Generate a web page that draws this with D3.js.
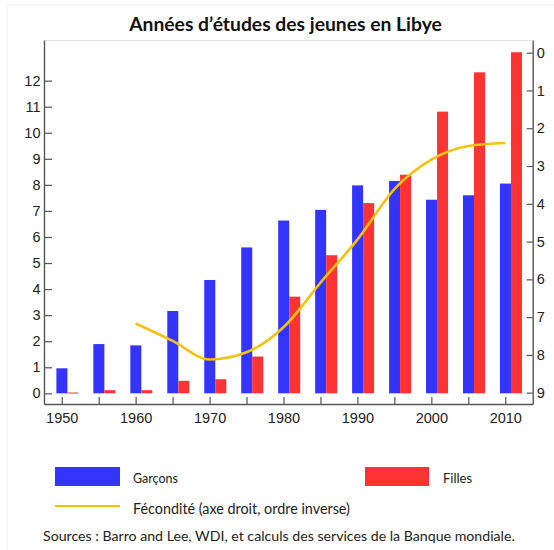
<!DOCTYPE html>
<html><head><meta charset="utf-8">
<script src="https://cdn.jsdelivr.net/npm/d3@7"></script>
<style>body{margin:0;background:#fff}</style>
</head><body>
<svg id="c" width="554" height="550"></svg>
<script>
const years = [1950,1955,1960,1965,1970,1975,1980,1985,1990,1995,2000,2005,2010];
const garcons = [0.96,1.89,1.84,3.16,4.35,5.6,6.63,7.04,7.98,8.15,7.43,7.6,8.05];
const filles = [0.03,0.12,0.12,0.48,0.54,1.41,3.71,5.3,7.3,8.39,10.81,12.32,13.09];
const fertYears = [1960,1965,1970,1975,1980,1985,1990,1995,2000,2005,2010];
const fecondite = [7.17,7.63,8.12,7.93,7.27,6.09,4.95,3.61,2.83,2.47,2.39];
const leftTicks = [0,1,2,3,4,5,6,7,8,9,10,11,12];
const rightTicks = [0,1,2,3,4,5,6,7,8,9];
const xTicks = [1950,1955,1960,1965,1970,1975,1980,1985,1990,1995,2000,2005,2010];
const xLabels = [1950,1960,1970,1980,1990,2000,2010];
const title = "Années d’études des jeunes en Libye";
const legendLabels = ["Garçons","Filles","Fécondité (axe droit, ordre inverse)"];
const source = "Sources : Barro and Lee, WDI, et calculs des services de la Banque mondiale.";

const blue = "#3434ff", red = "#ff3333", yellow = "#f4c20d", axisCol = "#555";
const svg = d3.select("#c");
const L = 44, R = 532.7, T = 40, B = 404;

// faint outer frame
svg.append("rect").attr("x",7).attr("y",5).attr("width",560).attr("height",560)
  .attr("fill","none").attr("stroke","#eeeeee");

const x = d3.scaleLinear().domain([1947.604, 2013.71]).range([L, R]);
const yL = d3.scaleLinear().domain([-0.41, 13.56]).range([B, T]);
const yR = d3.scaleLinear().domain([-0.336, 9.30]).range([T, B]);

// top faint line
svg.append("line").attr("x1",L).attr("x2",R).attr("y1",T+0.5).attr("y2",T+0.5)
  .attr("stroke","#e4e4e4");

// bars
svg.append("g").selectAll("rect").data(years).join("rect")
  .attr("x", d => x(d - 0.72)).attr("width", (d) => x(d + 0.77) - x(d - 0.72))
  .attr("y", (d,i) => yL(garcons[i])).attr("height", (d,i) => yL(0) - yL(garcons[i]))
  .attr("fill", blue);
svg.append("g").selectAll("rect").data(years).join("rect")
  .attr("x", d => x(d + 0.77)).attr("width", (d) => x(d + 2.26) - x(d + 0.77))
  .attr("y", (d,i) => yL(filles[i])).attr("height", (d,i) => Math.max(1, yL(0) - yL(filles[i])))
  .attr("fill", red);

// fertility line
const line = d3.line().x((d,i) => x(fertYears[i])).y(d => yR(d)).curve(d3.curveMonotoneX);
svg.append("path").datum(fecondite).attr("d", line).attr("fill","none")
  .attr("stroke", yellow).attr("stroke-width", 2.6);

function styleAxis(g){
  g.attr("font-family", null).attr("font-size", null);
  g.select(".domain").attr("stroke", axisCol).attr("stroke-width",1.4);
  g.selectAll(".tick line").attr("stroke", axisCol).attr("stroke-width",1.2);
  g.selectAll("text").attr("fill","#222").style("font-family","'Liberation Sans', Arial, sans-serif").style("font-size","14.5px");
}
const gl = svg.append("g").attr("transform",`translate(${L},0)`)
  .call(d3.axisLeft(yL).tickValues(leftTicks).tickSizeInner(-8).tickSizeOuter(0).tickPadding(3.5).tickFormat(d3.format("d")));
styleAxis(gl);
const gr = svg.append("g").attr("transform",`translate(${R},0)`)
  .call(d3.axisRight(yR).tickValues(rightTicks).tickSizeInner(-6).tickSizeOuter(0).tickPadding(4).tickFormat(d3.format("d")));
styleAxis(gr);
const gx = svg.append("g").attr("transform",`translate(0,${B})`)
  .call(d3.axisBottom(x).tickValues(xTicks).tickSizeInner(-7).tickSizeOuter(0).tickPadding(9)
    .tickFormat(d => xLabels.includes(d) ? String(d) : ""));
styleAxis(gx);

function fitText(sel, target, size){
  sel.style("font-size", size+"px");
  const len = sel.node().getComputedTextLength();
  sel.style("font-size", (size*target/len).toFixed(2)+"px");
}
const font = "Lato, 'Open Sans', sans-serif";
const t = svg.append("text").attr("x",285.5).attr("y",30.5).attr("text-anchor","middle")
  .style("font-family",font).style("font-weight","bold").attr("fill","#111").text(title);
fitText(t, 313, 17);

// legend
svg.append("rect").attr("x",55).attr("y",467).attr("width",65).attr("height",19).attr("fill",blue);
svg.append("rect").attr("x",365).attr("y",467).attr("width",64).attr("height",19).attr("fill",red);
svg.append("line").attr("x1",55).attr("x2",120).attr("y1",506).attr("y2",506).attr("stroke",yellow).attr("stroke-width",2.2);
const lg1 = svg.append("text").attr("x",133).attr("y",483).style("font-family",font).attr("fill","#222").text(legendLabels[0]);
fitText(lg1, 45, 13);
const lg2 = svg.append("text").attr("x",443).attr("y",483).style("font-family",font).attr("fill","#222").text(legendLabels[1]);
fitText(lg2, 29, 13);
const lg3 = svg.append("text").attr("x",133).attr("y",513.5).style("font-family",font).attr("fill","#222").text(legendLabels[2]);
fitText(lg3, 217, 13);
const src = svg.append("text").attr("x",43).attr("y",540.5).style("font-family",font).attr("fill","#222").text(source);
fitText(src, 472, 13);
</script>
</body></html>
